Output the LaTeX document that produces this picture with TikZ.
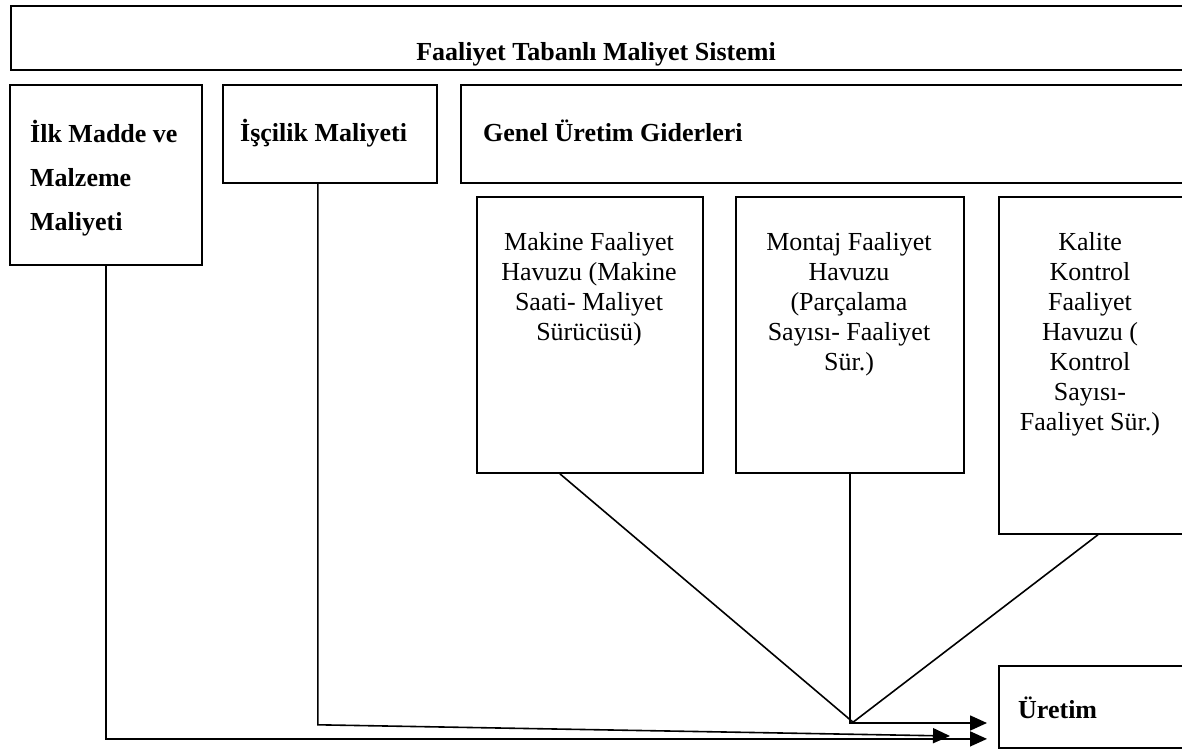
\documentclass[tikz,border=0pt]{standalone}
\usepackage{fontspec}
\setmainfont{Liberation Serif}
\usetikzlibrary{arrows.meta}

\tikzset{
	box/.style={draw, line width=1.8pt, inner sep=0pt, anchor=north west},
	headtxt/.style={font=\bfseries\fontsize{26}{44}\selectfont, inner sep=0pt, align=left},
	pooltxt/.style={font=\fontsize{26}{30}\selectfont, inner sep=0pt, align=center},
	link/.style={line width=1.6pt},
	flow/.style={line width=1.6pt, -{Triangle[length=17pt,width=15pt]}},
}

\begin{document}
\begin{tikzpicture}[x=1pt, y=-1pt]
	\useasboundingbox (0,0) rectangle (1182,749);
	\clip (0,0) rectangle (1182,749);
	% frames
	\node[box, minimum width=1180pt, minimum height=64pt] (sys) at (10,5) {};
	\node[box, minimum width=192pt, minimum height=180pt] (ilk) at (9,84) {};
	\node[box, minimum width=214pt, minimum height=98pt] (isc) at (222,84) {};
	\node[box, minimum width=730pt, minimum height=98pt] (gen) at (460,84) {};
	\node[box, minimum width=226pt, minimum height=276pt] (makine) at (476,196) {};
	\node[box, minimum width=228pt, minimum height=276pt] (montaj) at (735,196) {};
	\node[box, minimum width=186pt, minimum height=337pt] (kalite) at (998,196) {};
	\node[box, minimum width=190pt, minimum height=82pt] (uretim) at (998,665) {};
	% texts
	\node[headtxt, anchor=base] (sysT) at (596,61) {Faaliyet Tabanlı Maliyet Sistemi};
	\node[headtxt, anchor=north west] (ilkT) at (30,120) {İlk Madde ve\\Malzeme\\Maliyeti};
	\node[headtxt, anchor=base west] (iscT) at (240,142) {İşçilik Maliyeti};
	\node[headtxt, anchor=base west] (genT) at (483,142) {Genel Üretim Giderleri};
	\node[pooltxt, anchor=north] (makT) at (589,232) {Makine Faaliyet\\Havuzu (Makine\\Saati- Maliyet\\Sürücüsü)};
	\node[pooltxt, anchor=north] (monT) at (849,232) {Montaj Faaliyet\\Havuzu\\(Parçalama\\Sayısı- Faaliyet\\Sür.)};
	\node[pooltxt, anchor=north] (kalT) at (1090,232) {Kalite\\Kontrol\\Faaliyet\\Havuzu (\\Kontrol\\Sayısı-\\Faaliyet Sür.)};
	\node[headtxt, anchor=base west] (uretT) at (1018,718) {Üretim};
	% connectors
	\coordinate (merge) at (849,723);
	\coordinate (iscTip) at (950,736);
	\draw[link] ([shift={(-30,0)}]makine.south) -- ([shift={(5,0)}]merge);
	\draw[link] ([shift={(6,0)}]kalite.south) -- ([shift={(3,0)}]merge);
	\draw[flow, shorten >=11pt] (montaj.south) |- (merge -| uretim.west);
	\draw[flow] ([shift={(-12,0)}]isc.south) -- ++(0,541) -- (iscTip);
	\draw[flow, shorten >=11pt] (ilk.south) |- ([shift={(0,32)}]uretim.west);
\end{tikzpicture}
\end{document}
